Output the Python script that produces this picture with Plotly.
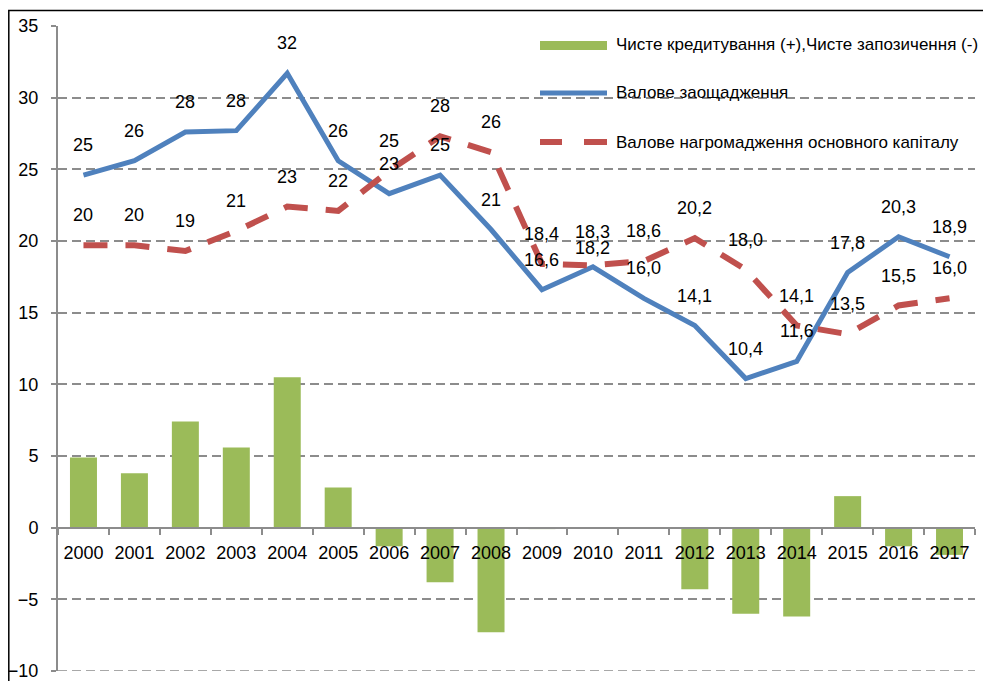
import plotly.graph_objects as go

years = [str(y) for y in range(2000, 2018)]
net_lending = [4.9, 3.8, 7.4, 5.6, 10.5, 2.8, -1.3, -3.8, -7.3, -0.1, 0.02, -0.05,
               -4.3, -6.0, -6.2, 2.2, -1.3, -1.9]
gross_saving = [24.6, 25.6, 27.6, 27.7, 31.7, 25.6, 23.3, 24.6, 20.8, 16.6, 18.2, 16.0,
                14.1, 10.4, 11.6, 17.8, 20.3, 18.9]
gfcf = [19.7, 19.7, 19.3, 20.7, 22.4, 22.1, 24.9, 27.3, 26.2, 18.4, 18.3, 18.6,
        20.2, 18.0, 14.1, 13.5, 15.5, 16.0]
saving_labels = ["25", "26", "28", "28", "32", "26", "23", "25", "21", "16,6", "18,2",
                 "16,0", "14,1", "10,4", "11,6", "17,8", "20,3", "18,9"]
gfcf_labels = ["20", "20", "19", "21", "23", "22", "25", "28", "26", "18,4", "18,3",
               "18,6", "20,2", "18,0", "14,1", "13,5", "15,5", "16,0"]
series_names = ["Чисте кредитування (+),Чисте запозичення (-)",
                "Валове заощадження",
                "Валове нагромадження основного капіталу"]
y_ticks = [-10, -5, 0, 5, 10, 15, 20, 25, 30, 35]

FONT = "Liberation Sans, Arial, sans-serif"
GREEN = "#9BBB59"
BLUE = "#4F81BD"
RED = "#C0504D"
GRID = "#8C8C8C"
AXIS = "#8C8C8C"

# The page body has an 8px margin, so the figure is sized to fit the window.
OFF = 8
FIG_W, FIG_H = 991 - OFF, 681 - OFF
PLOT_L, PLOT_R, PLOT_T, PLOT_B = 58 - OFF, 975 - OFF, 26 - OFF, 671 - OFF
Y_MIN, Y_MAX = -10, 35

fig = go.Figure()
fig.add_trace(go.Bar(x=years, y=net_lending, name=series_names[0],
                     marker=dict(color=GREEN, line=dict(width=0))))
fig.add_trace(go.Scatter(x=years, y=gross_saving, name=series_names[1], mode="lines",
                         line=dict(color=BLUE, width=5)))
fig.add_trace(go.Scatter(x=years, y=gfcf, name=series_names[2], mode="lines",
                         line=dict(color=RED, width=6, dash="24px,18px")))

LABEL_SHIFT = 30
saving_shift_override = {10: 19}   # 2010 label sits lower, next to the 18,3 label

annotations = []
# category axes take annotation positions as category indices
for i, (v, t) in enumerate(zip(gross_saving, saving_labels)):
    annotations.append(dict(x=i, y=v, text=t, showarrow=False, xref="x", yref="y",
                            yshift=saving_shift_override.get(i, LABEL_SHIFT),
                            font=dict(family=FONT, size=18, color="black")))
for i, (v, t) in enumerate(zip(gfcf, gfcf_labels)):
    annotations.append(dict(x=i, y=v, text=t, showarrow=False, xref="x", yref="y",
                            yshift=LABEL_SHIFT + (3 if i == 10 else 0),
                            font=dict(family=FONT, size=18, color="black")))

# custom legend in paper coordinates, given in screen pixels
W = PLOT_R - PLOT_L
H = PLOT_B - PLOT_T
def px(xs):
    return (xs - OFF - PLOT_L) / W
def py(ys):
    return (PLOT_B - (ys - OFF)) / H

legend_rows = [45, 93, 142]
for name, yrow in zip(series_names, legend_rows):
    annotations.append(dict(x=px(614), y=py(yrow), xref="paper", yref="paper",
                            text=name, showarrow=False, xanchor="left", yanchor="middle",
                            font=dict(family=FONT, size=17, color="black")))

shapes = [
    dict(type="rect", xref="paper", yref="paper", x0=px(540), x1=px(607),
         y0=py(50), y1=py(41), fillcolor=GREEN, line=dict(width=0)),
    dict(type="line", xref="paper", yref="paper", x0=px(540), x1=px(607),
         y0=py(93), y1=py(93), line=dict(color=BLUE, width=5)),
    dict(type="line", xref="paper", yref="paper", x0=px(540), x1=px(562),
         y0=py(142), y1=py(142), line=dict(color=RED, width=6)),
    dict(type="line", xref="paper", yref="paper", x0=px(584), x1=px(607),
         y0=py(142), y1=py(142), line=dict(color=RED, width=6)),
    # gridline along the bottom edge of the value range
    dict(type="line", xref="paper", yref="y", x0=0, x1=1, y0=Y_MIN, y1=Y_MIN,
         line=dict(color=GRID, width=1.5, dash="9px,5px"), layer="below"),
    # outer chart frame
    dict(type="rect", xref="paper", yref="paper", x0=px(8.8), x1=px(1010),
         y0=py(720), y1=py(10.5), line=dict(color="black", width=1.5),
         fillcolor="rgba(0,0,0,0)", layer="below"),
]

fig.update_layout(
    width=FIG_W, height=FIG_H,
    margin=dict(l=PLOT_L, r=FIG_W - PLOT_R, t=PLOT_T, b=FIG_H - PLOT_B, autoexpand=False),
    paper_bgcolor="white", plot_bgcolor="white",
    showlegend=False,
    bargap=0.47,
    font=dict(family=FONT, size=18, color="black"),
    annotations=annotations,
    shapes=shapes,
    xaxis=dict(type="category", anchor="free", position=10 / 45,
               showline=True, linecolor=AXIS, linewidth=2,
               ticks="outside", tickson="boundaries", ticklen=6, tickwidth=2,
               tickcolor=AXIS, showgrid=False, tickangle=0,
               automargin=False,
               tickfont=dict(family=FONT, size=18, color="black"),
               ticklabelstandoff=9),
    yaxis=dict(range=[Y_MIN, Y_MAX], tickvals=y_ticks, showline=True,
               linecolor=AXIS, linewidth=2, ticks="outside", ticklen=5,
               tickwidth=2, tickcolor=AXIS, automargin=False,
               ticklabeloverflow="allow",
               showgrid=True, gridcolor=GRID, gridwidth=1.5, griddash="9px,5px",
               zeroline=False,
               tickfont=dict(family=FONT, size=18, color="black"),
               ticklabelstandoff=9),
)

fig.write_html("out.html")
